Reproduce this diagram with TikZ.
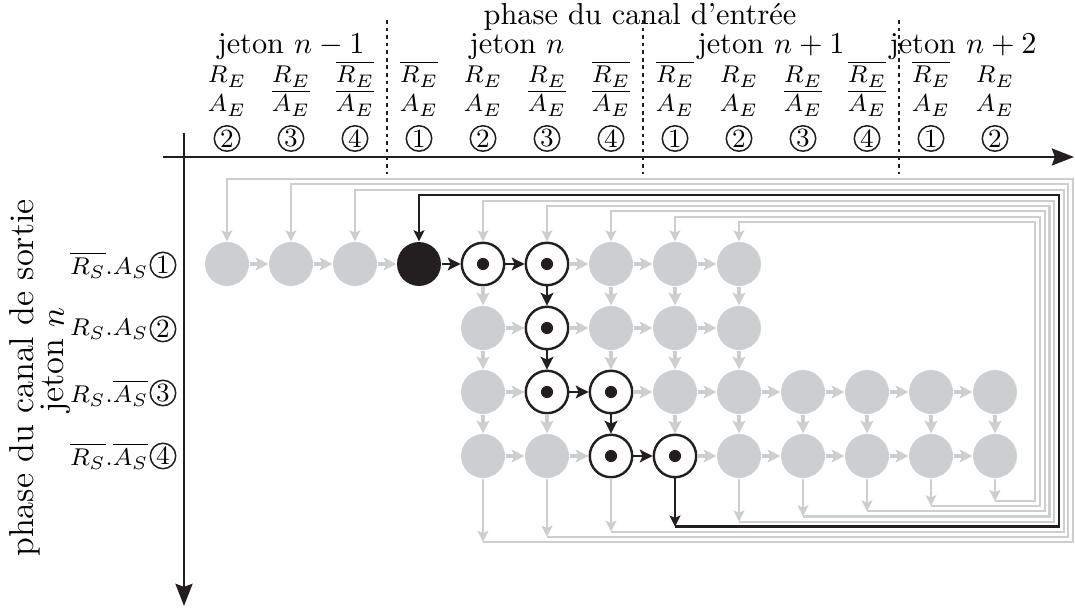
\documentclass[tikz,border=0pt]{standalone}
\usepackage{tikz}
\usetikzlibrary{arrows.meta}
\definecolor{lg}{RGB}{205,206,208}
\definecolor{bk}{RGB}{35,31,32}
\begin{document}
\begin{tikzpicture}[x=0.33pt,y=-0.33pt,
  gnode/.style={circle,fill=lg,minimum size=14.5pt,inner sep=0pt},
  bnode/.style={circle,fill=bk,minimum size=14.5pt,inner sep=0pt},
  dnode/.style={circle,draw=bk,line width=0.8pt,fill=white,minimum size=14pt,inner sep=0pt,
    path picture={\fill[bk] (path picture bounding box.center) circle (2pt);}},
  tip/.style={-{Stealth[length=3.7pt,width=3.6pt,inset=0.8pt]}},
  btip/.style={-{Stealth[length=4.2pt,width=4.2pt,inset=0.9pt]}},
  garr/.style={btip,draw=lg,line width=1.2pt},
  barr/.style={btip,draw=bk,line width=0.95pt},
  axisarr/.style={draw=bk,line width=0.9pt,-{Stealth[length=7.3pt,width=5.6pt,inset=1pt]}},
  sepline/.style={draw=bk,line width=0.75pt,dash pattern=on 1.2pt off 1.3pt},
  cnum/.style={circle,draw=bk,line width=0.5pt,minimum size=8.4pt,inner sep=0pt,font=\fontsize{8.7}{10}\selectfont},
  hlab/.style={anchor=base,font=\footnotesize,inner sep=0pt},
  sidelab/.style={rotate=90,anchor=base,font=\fontsize{11.4}{13}\selectfont},
  ]
\useasboundingbox (0,0) rectangle (1075,608);

% titles
\node[anchor=base] (title) at (640,25) {phase du canal d’entrée};
\node[anchor=base] (tok1) at (291,54) {jeton $n-1$};
\node[anchor=base] (tok2) at (517,54) {jeton $n$};
\node[anchor=base] (tok3) at (771,54) {jeton $n+1$};
\node[anchor=base] (tok4) at (963,54) {jeton $n+2$};

% header columns
\foreach \c/\r/\a/\n in {0/R_E/A_E/2, 1/R_E/\overline{A_E}/3, 2/\overline{R_E}/\overline{A_E}/4,
  3/\overline{R_E}/A_E/1, 4/R_E/A_E/2, 5/R_E/\overline{A_E}/3, 6/\overline{R_E}/\overline{A_E}/4,
  7/\overline{R_E}/A_E/1, 8/R_E/A_E/2, 9/R_E/\overline{A_E}/3, 10/\overline{R_E}/\overline{A_E}/4,
  11/\overline{R_E}/A_E/1, 12/R_E/A_E/2}{
  \node[hlab] (hr\c) at ({227+64*\c},83) {$\r$};
  \node[hlab] (ha\c) at ({227+64*\c},112) {$\a$};
  \node[cnum] (hn\c) at ({227+64*\c},138.5) {\n};
}

% separators
\foreach \x/\nm in {387/s1,643/s2,899/s3}{
  \coordinate (\nm a) at (\x,20);
  \coordinate (\nm b) at (\x,174);
  \draw[sepline] (\nm a) -- (\nm b);
}

% axes
\coordinate (ax0) at (163,157);
\coordinate (ax1) at (1074,157);
\coordinate (ay0) at (184,133);
\coordinate (ay1) at (184,606);
\draw[axisarr] (ax0) -- (ax1);
\draw[axisarr] (ay0) -- (ay1);

% side labels
\node[sidelab] (side1) at (33,378) {phase du canal de sortie};
\node[sidelab] (side2) at (64,360) {jeton $n$};
\node[anchor=east,inner sep=0pt,font=\footnotesize] (l1) at (149,265) {$\overline{R_S}.A_S$};
\node[cnum] (n1) at (163,265) {1};
\node[anchor=east,inner sep=0pt,font=\footnotesize] (l2) at (149,329) {$R_S.A_S$};
\node[cnum] (n2) at (163,329) {2};
\node[anchor=east,inner sep=0pt,font=\footnotesize] (l3) at (149,393) {$R_S.\overline{A_S}$};
\node[cnum] (n3) at (163,393) {3};
\node[anchor=east,inner sep=0pt,font=\footnotesize] (l4) at (149,456) {$\overline{R_S}.\overline{A_S}$};
\node[cnum] (n4) at (163,456) {4};

% nodes
\foreach \c in {0,1,2,6,7,8} \node[gnode] (r1c\c) at ({227+64*\c},264) {};
\node[bnode] (r1c3) at (419,264) {};
\foreach \c in {4,5} \node[dnode] (r1c\c) at ({227+64*\c},264) {};
\foreach \c in {4,6,7,8} \node[gnode] (r2c\c) at ({227+64*\c},328) {};
\node[dnode] (r2c5) at (547,328) {};
\foreach \c in {4,7,8,9,10,11,12} \node[gnode] (r3c\c) at ({227+64*\c},392) {};
\foreach \c in {5,6} \node[dnode] (r3c\c) at ({227+64*\c},392) {};
\foreach \c in {4,5,8,9,10,11,12} \node[gnode] (r4c\c) at ({227+64*\c},456) {};
\foreach \c in {6,7} \node[dnode] (r4c\c) at ({227+64*\c},456) {};

% gray arrows between nodes
\foreach \c in {0,1,2,5,6,7}{
  \pgfmathtruncatemacro\d{\c+1}
  \draw[garr] (r1c\c) -- (r1c\d);
}
\foreach \c in {4,5,6,7}{
  \pgfmathtruncatemacro\d{\c+1}
  \draw[garr] (r2c\c) -- (r2c\d);
}
\foreach \c in {4,6,7,8,9,10,11}{
  \pgfmathtruncatemacro\d{\c+1}
  \draw[garr] (r3c\c) -- (r3c\d);
}
\foreach \c in {4,5,7,8,9,10,11}{
  \pgfmathtruncatemacro\d{\c+1}
  \draw[garr] (r4c\c) -- (r4c\d);
}
\foreach \c in {4,6,7,8} \draw[garr] (r1c\c) -- (r2c\c);
\foreach \c in {4,6,7,8} \draw[garr] (r2c\c) -- (r3c\c);
\foreach \c in {4,5,7,8,9,10,11,12} \draw[garr] (r3c\c) -- (r4c\c);

% black path
\draw[barr] (r1c3) -- (r1c4);
\draw[barr] (r1c4) -- (r1c5);
\draw[barr] (r1c5) -- (r2c5);
\draw[barr] (r2c5) -- (r3c5);
\draw[barr] (r3c5) -- (r3c6);
\draw[barr] (r3c6) -- (r4c6);
\draw[barr] (r4c6) -- (r4c7);

% feedback loops
\foreach \j in {0,...,8}{
  \pgfmathtruncatemacro\k{\j+4}
  \pgfmathsetmacro\xs{227+64*\k}
  \pgfmathsetmacro\xt{227+64*\j}
  \pgfmathsetmacro\yb{542-5.1*\j}
  \pgfmathsetmacro\xr{1073-4.7*\j}
  \pgfmathsetmacro\yt{179+5.4*\j}
  \ifnum\j=3 \def\ls{bk}\def\lw{0.8pt}\else\def\ls{lg}\def\lw{0.7pt}\fi
  \coordinate (b\j) at (\xs,\yb);
  \coordinate (p\j) at (\xr,\yb);
  \coordinate (q\j) at (\xr,\yt);
  \coordinate (t\j) at (\xt,\yt);
  \draw[tip,draw=\ls,line width=\lw] (r4c\k.south) -- (b\j);
  \draw[tip,draw=\ls,line width=\lw] (b\j) -- (p\j) -- (q\j) -- (t\j) -- (r1c\j.north);
}
\end{tikzpicture}
\end{document}
